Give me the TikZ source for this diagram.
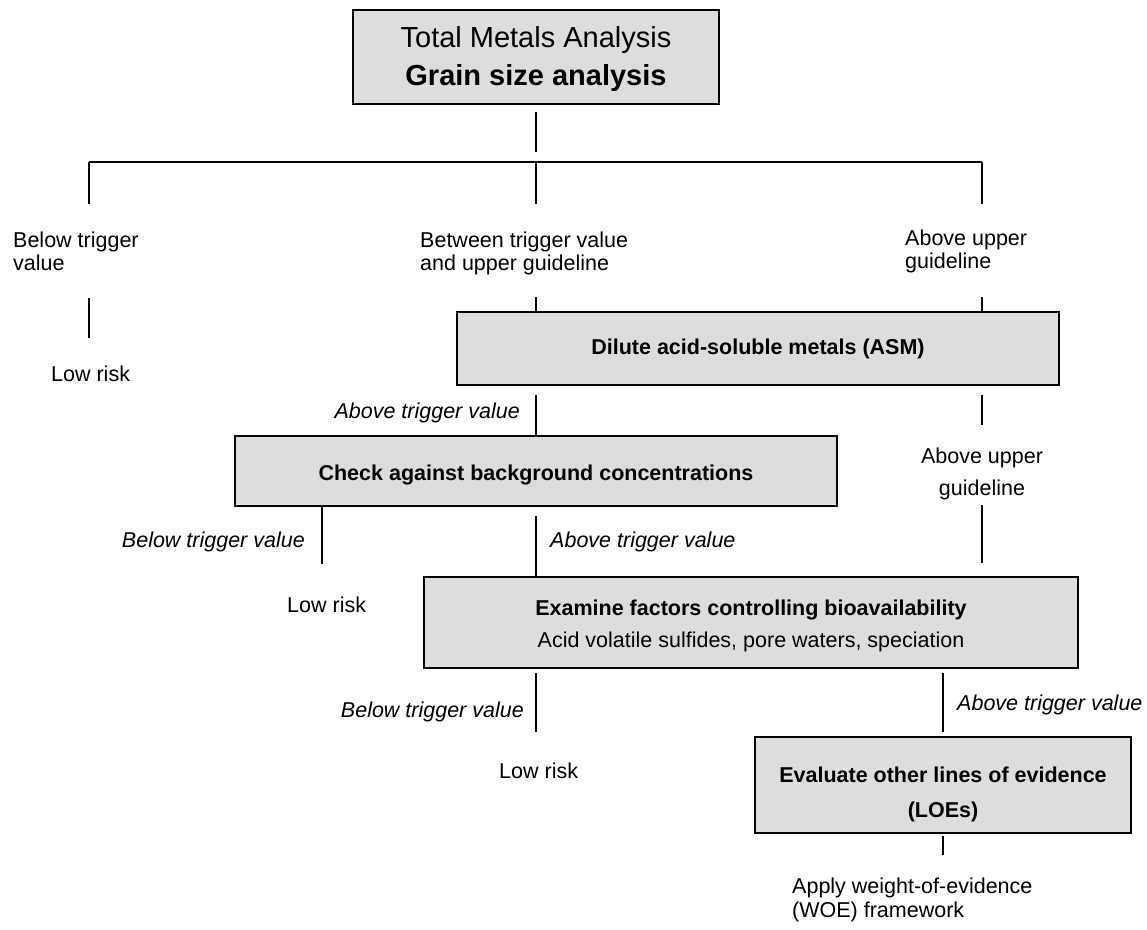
\documentclass[tikz,border=0pt]{standalone}
\usepackage{fontspec}
\setmainfont{Liberation Sans}
\definecolor{boxgray}{RGB}{221,221,221}
\newcommand{\lbfont}{\fontsize{21.5}{24}\selectfont}
\newcommand{\bigfont}{\fontsize{29}{33}\selectfont}
\begin{document}
\begin{tikzpicture}[x=1pt,y=-1pt,
  box/.style={draw=black, line width=1.6pt, fill=boxgray, inner sep=0pt},
  conn/.style={line width=1.5pt},
  lbl/.style={inner sep=0pt, font=\lbfont},
  lblw/.style={lbl, anchor=base west},
  lble/.style={lbl, anchor=base east},
  lblc/.style={lbl, anchor=base},
  boxtxt/.style={lbl, anchor=base, font=\lbfont\bfseries}]
\useasboundingbox (0,0) rectangle (1147,929);

% boxes
\node[box, minimum width=366pt, minimum height=94pt] (top) at (536,57) {};
\node[box, minimum width=602pt, minimum height=73pt] (asm) at (758,348.5) {};
\node[box, minimum width=602pt, minimum height=70pt] (chk) at (536,471) {};
\node[box, minimum width=654pt, minimum height=91pt] (exa) at (751,622.5) {};
\node[box, minimum width=376pt, minimum height=96pt] (loe) at (943,785) {};

% box texts
\node[lblc, font=\bigfont] (topa) at (536,47) {Total Metals Analysis};
\node[lblc, font=\bigfont\bfseries] (topb) at (536,85) {Grain size analysis};
\node[boxtxt] (asmt) at (758,354) {Dilute acid-soluble metals (ASM)};
\node[boxtxt] (chkt) at (536,480) {Check against background concentrations};
\node[boxtxt] (exat) at (751,615) {Examine factors controlling bioavailability};
\node[lblc] (exas) at (751,647) {Acid volatile sulfides, pore waters, speciation};
\node[boxtxt] (loet) at (943,782) {Evaluate other lines of evidence};
\node[boxtxt] (loes) at (943,817) {(LOEs)};

% labels
\node[lblw] (bt1) at (13,247) {Below trigger};
\node[lblw] (bt2) at (13,270) {value};
\node[lblw] (lr1) at (51,381) {Low risk};
\node[lblw] (bw1) at (420,247) {Between trigger value};
\node[lblw] (bw2) at (420,270) {and upper guideline};
\node[lblw] (au1) at (905,245) {Above upper};
\node[lblw] (au2) at (905,268) {guideline};
\node[lble, font=\lbfont\itshape] (at1) at (520,418) {Above trigger value};
\node[lblc] (au3) at (982,463) {Above upper};
\node[lblc] (au4) at (982,495) {guideline};
\node[lble, font=\lbfont\itshape] (bt3) at (305,547) {Below trigger value};
\node[lblw, font=\lbfont\itshape] (at2) at (550,547) {Above trigger value};
\node[lblw] (lr2) at (287,612) {Low risk};
\node[lble, font=\lbfont\itshape] (bt4) at (524,717) {Below trigger value};
\node[lblw, font=\lbfont\itshape] (at3) at (957,710) {Above trigger value};
\node[lblw] (lr3) at (499,778) {Low risk};
\node[lblw] (ap1) at (792,893) {Apply weight-of-evidence};
\node[lblw] (ap2) at (792,917) {(WOE) framework};

% connector points
\coordinate (stubT) at (536,112);
\coordinate (stubB) at (536,152);
\coordinate (hL) at (89,162);
\coordinate (hM) at (536,162);
\coordinate (hR) at (982,162);
\coordinate (dL) at (89,204);
\coordinate (dM) at (536,204);
\coordinate (dR) at (982,204);
\coordinate (lA) at (89,298);
\coordinate (lB) at (89,338);
\coordinate (m1) at (536,297);
\coordinate (r1) at (982,297);
\coordinate (m2) at (536,395);
\coordinate (r2a) at (982,395);
\coordinate (r2b) at (982,425);
\coordinate (r3a) at (982,505);
\coordinate (r3b) at (982,563);
\coordinate (c1) at (322,564);
\coordinate (c2) at (536,516);
\coordinate (e1a) at (536,673);
\coordinate (e1b) at (536,732);
\coordinate (e2a) at (943,673);
\coordinate (e2b) at (943,732);
\coordinate (f1a) at (943,836);
\coordinate (f1b) at (943,855);

% connectors
\draw[conn] (stubT) -- (stubB);
\draw[conn] (hL) -- (hR);
\draw[conn] (hL) -- (dL);
\draw[conn] (hM) -- (dM);
\draw[conn] (hR) -- (dR);
\draw[conn] (lA) -- (lB);
\draw[conn] (m1) -- (m1 |- asm.north);
\draw[conn] (r1) -- (r1 |- asm.north);
\draw[conn] (m2) -- (m2 |- chk.north);
\draw[conn] (r2a) -- (r2b);
\draw[conn] (r3a) -- (r3b);
\draw[conn] (c1 |- chk.south) -- (c1);
\draw[conn] (c2) -- (c2 |- exa.north);
\draw[conn] (e1a) -- (e1b);
\draw[conn] (e2a) -- (e2b);
\draw[conn] (f1a) -- (f1b);
\end{tikzpicture}
\end{document}
